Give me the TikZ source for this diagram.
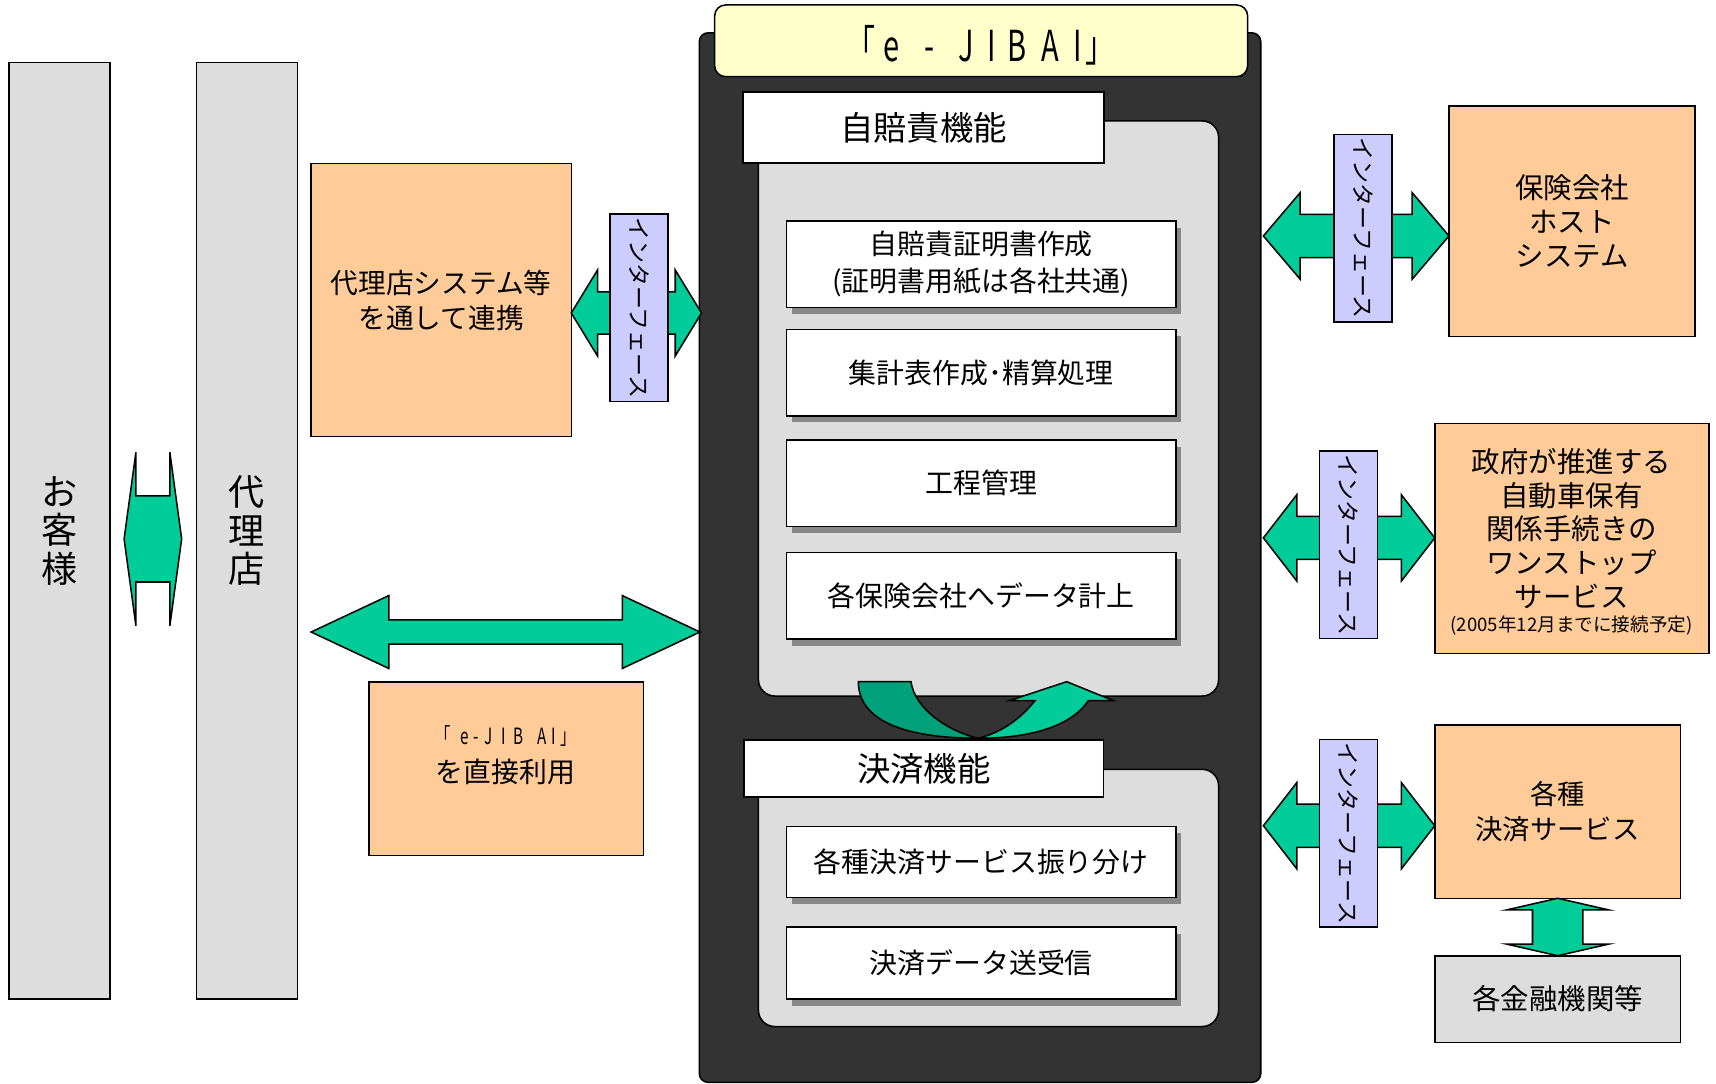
\documentclass[tikz,border=0pt]{standalone}
\usepackage{fontspec}
\usepackage{graphicx}
\setmainfont{Noto Sans CJK JP}
\usetikzlibrary{shadows}
\definecolor{peach}{HTML}{FFCC99}
\definecolor{lav}{HTML}{CCCCFF}
\definecolor{grn}{HTML}{00CC99}
\definecolor{dgrn}{HTML}{00A07A}
\definecolor{lgray}{HTML}{DDDDDD}
\definecolor{darkbg}{HTML}{333333}
\definecolor{ylw}{HTML}{FFFFCC}
\definecolor{shd}{HTML}{888888}
\newcommand{\hsp}[1]{\hspace*{#1pt}}
\newcommand{\harrow}[6]{%
  \filldraw[arr] (#1,#3) -- ({#1+#6},{#3-#4}) -- ({#1+#6},{#3-#5}) -- ({#2-#6},{#3-#5}) -- ({#2-#6},{#3-#4}) -- (#2,#3) -- ({#2-#6},{#3+#4}) -- ({#2-#6},{#3+#5}) -- ({#1+#6},{#3+#5}) -- ({#1+#6},{#3+#4}) -- cycle;}
\newcommand{\varrow}[6]{%
  \filldraw[arr] (#3,#1) -- ({#3+#4},{#1+#6}) -- ({#3+#5},{#1+#6}) -- ({#3+#5},{#2-#6}) -- ({#3+#4},{#2-#6}) -- (#3,#2) -- ({#3-#4},{#2-#6}) -- ({#3-#5},{#2-#6}) -- ({#3-#5},{#1+#6}) -- ({#3-#4},{#1+#6}) -- cycle;}
\begin{document}
\begin{tikzpicture}[x=1pt,y=-1pt,
  box/.style={draw=black, line width=1.4pt, inner sep=0pt, outer sep=0pt, align=center},
  item/.style={box, fill=white, minimum width=355.9pt,
     drop shadow={shadow xshift=5pt, shadow yshift=-6pt, fill=shd, opacity=1},
     font=\fontsize{25.5}{34}\selectfont},
  iface/.style={box, fill=lav, rotate=-90, minimum width=171.5pt, minimum height=53pt,
     font=\fontsize{21}{21}\selectfont},
  arr/.style={fill=grn, draw=black, line width=1.4pt},
  txt/.style={inner sep=0pt, outer sep=0pt, align=center}]
\useasboundingbox (0,0) rectangle (1568,990);

% left columns
\node[box, fill=lgray, minimum width=92.6pt, minimum height=856pt,
      font=\fontsize{33}{35.25}\selectfont] (cust) at (54.3,485) {お\\客\\様};
\node[box, fill=lgray, minimum width=92.3pt, minimum height=856pt,
      font=\fontsize{33}{35.25}\selectfont] (agent) at (225.5,485) {代\\理\\店};

\node[box, fill=peach, minimum width=237.7pt, minimum height=249.8pt,
      font=\fontsize{25.3}{32}\selectfont] (agsys) at (403.2,274.1) {代理店システム等\\を通して連携};

\node[box, fill=peach, minimum width=250.8pt, minimum height=158.6pt] (direct) at (462.4,702.3) {};
\node[txt, anchor=base, font=\fontsize{20.5}{20.5}\selectfont] (directa) at (462,680)
  {\scalebox{0.68}[1]{「\hsp{12.5}e\hsp{6.7}-\hsp{8}J\hsp{11.2}I\hsp{10.2}B\hsp{19.5}A\hsp{5.3}I\hsp{6.3}」}};
\node[txt, font=\fontsize{25.5}{25.5}\selectfont] (directb) at (462,705) {を直接利用};

% central system
\node[box, fill=darkbg, rounded corners=8pt, minimum width=513pt, minimum height=959pt] (sys) at (895.5,509.5) {};
\node[box, fill=ylw, rounded corners=10pt, minimum width=487pt, minimum height=65.5pt] (title) at (896.5,37.3) {};
\node[txt, anchor=base, font=\fontsize{39}{39}\selectfont] (titlet) at (896,56.4)
  {\scalebox{0.68}[1]{「\hsp{11.2}e \hsp{24.1}- \hsp{23.9}J\hsp{17.3}I\hsp{16}B\hsp{19.3}A\hsp{20.2}I\hsp{4.4}」}};

\node[box, fill=lgray, rounded corners=15pt, minimum width=420.5pt, minimum height=525.5pt] (p1) at (903.25,373.25) {};
\node[box, fill=white, minimum width=330pt, minimum height=65pt, font=\fontsize{30.5}{30.5}\selectfont] (l1) at (844,116.5) {自賠責機能};
\node[item, minimum height=79pt] (i1) at (896.6,241.5) {自賠責証明書作成\\(証明書用紙は各社共通)};
\node[item, minimum height=79pt] (i2) at (896.6,340.5) {集計表作成･精算処理};
\node[item, minimum height=79pt] (i3) at (896.6,441.5) {工程管理};
\node[item, minimum height=79pt] (i4) at (896.6,544.5) {各保険会社へデータ計上};

% curved arrow between the two functions
\filldraw[fill=dgrn, draw=black, line width=1.4pt] (784.3,622.9) .. controls (784.3,660) and (830,674.6) .. (894,674.6)
   .. controls (866,668) and (836,648) .. (832.4,622.9) -- cycle;
\filldraw[arr] (894,674.6) .. controls (945,674.6) and (980,662) .. (994.5,640.2) -- (1017.3,640.2) -- (974.7,622.9)
   -- (922.3,640.2) -- (945.7,640.2) .. controls (930,660) and (912,670) .. (894,674.6) -- cycle;

\node[box, fill=lgray, rounded corners=15pt, minimum width=420.5pt, minimum height=235pt] (p2) at (903.25,820.5) {};
\node[box, fill=white, minimum width=328.5pt, minimum height=52.5pt, font=\fontsize{30.5}{30.5}\selectfont] (l2) at (844.2,702.2) {決済機能};
\node[item, minimum height=65pt] (i5) at (896.6,787.5) {各種決済サービス振り分け};
\node[item, minimum height=66pt] (i6) at (896.6,880) {決済データ送受信};

% right side
\node[box, fill=peach, minimum width=225pt, minimum height=210.4pt,
      font=\fontsize{26}{31}\selectfont] (host) at (1436.5,202.2) {保険会社\\ホスト\\システム};
\node[box, fill=peach, minimum width=250.6pt, minimum height=210.2pt] (gov) at (1436.3,491.9) {};
\node[txt, font=\fontsize{26}{31}\selectfont] (govt) at (1436,483) {政府が推進する\\自動車保有\\関係手続きの\\ワンストップ\\サービス};
\node[txt, font=\fontsize{17}{17}\selectfont] (govs) at (1436,571.5) {(2005年12月までに接続予定)};
\node[box, fill=peach, minimum width=224.4pt, minimum height=158.3pt,
      font=\fontsize{25}{32}\selectfont] (pay) at (1423.2,741.65) {各種\\決済サービス};
\node[box, fill=lgray, minimum width=224.4pt, minimum height=79.1pt,
      font=\fontsize{26}{26}\selectfont] (bank) at (1423.2,912.85) {各金融機関等};

% block arrows
\harrow{113.4}{166}{492.5}{79.3}{39.3}{10.8}
\harrow{284.3}{639.6}{577.5}{33.3}{11}{71}
\harrow{522}{641}{286}{39.3}{19.3}{24}
\harrow{1154.4}{1324}{215.6}{39.5}{19.8}{33.6}
\harrow{1154.4}{1311}{491.5}{39.5}{19.6}{30.6}
\harrow{1154.4}{1311}{754.5}{39.5}{19.8}{30.6}
\varrow{820.8}{873.3}{1423.3}{46.5}{23}{10.6}

% interface boxes
\node[iface] (if1) at (584,281.25) {インターフェース};
\node[iface] (if2) at (1245.5,208.5) {インターフェース};
\node[iface] (if3) at (1232.25,497.8) {インターフェース};
\node[iface] (if4) at (1232.25,761.5) {インターフェース};
\end{tikzpicture}
\end{document}
